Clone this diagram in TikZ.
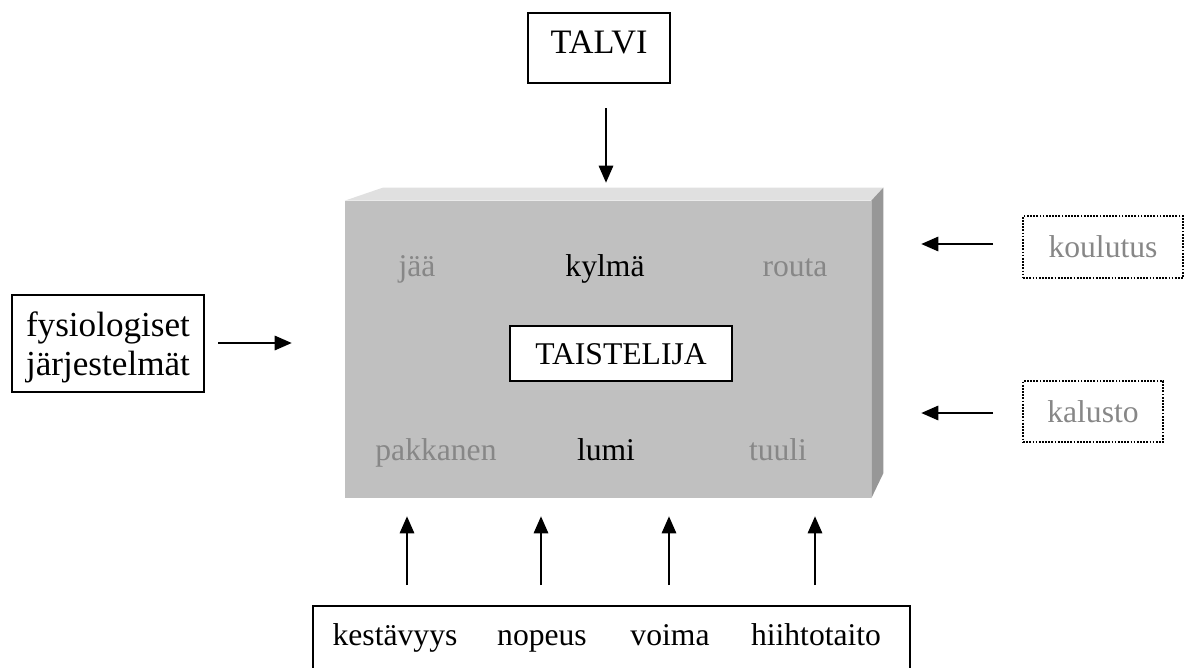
\documentclass[tikz,border=0pt]{standalone}
\usepackage{fontspec}
\setmainfont{Liberation Serif}
\usetikzlibrary{calc,arrows.meta}
\newcommand{\mysize}{\fontsize{18}{21.6}\selectfont}
\newcommand{\bigsize}{\fontsize{20}{22.5}\selectfont}
\definecolor{blockfront}{HTML}{C0C0C0}
\definecolor{blocktop}{HTML}{E0E0E0}
\definecolor{blockside}{HTML}{979797}
\definecolor{softgray}{HTML}{878787}
\def\blockdepth{12}
\def\blockrise{13}
\def\tipgap{0.36cm}

\begin{document}
\begin{tikzpicture}[x=0.02cm,y=-0.02cm,
  lbl/.style={font=\mysize, inner sep=0pt, anchor=base},
  frame/.style={font=\mysize, draw, line width=1pt, inner sep=0pt},
  oneline/.style={frame, text height=12pt, text depth=0pt},
  dotframe/.style={oneline, line width=1.1pt, dash pattern=on 1pt off 0.8pt, text=softgray},
  arr/.style={-{Triangle[length=0.34cm,width=0.29cm]}, line width=0.85pt}]

\useasboundingbox (0,0) rectangle (1191,667);

% BLOCK
\node[fill=blockfront, minimum width=10.52cm, minimum height=5.94cm, inner sep=0pt] (block) at (608,349.5) {};
\fill[blocktop] (block.north west) -- ++(38,-\blockrise) -- ($(block.north east)+(\blockdepth,-\blockrise)$) -- (block.north east) -- cycle;
\fill[blockside] (block.north east) -- ++(\blockdepth,-\blockrise) -- ($(block.south east)+(\blockdepth,-25)$) -- (block.south east) -- cycle;

% WEATHER
\node[lbl, text=softgray] (jaa) at (417,276) {jää};
\node[lbl] (kylma) at (605,276) {kylmä};
\node[lbl, text=softgray] (routa) at (795,276) {routa};
\node[lbl, text=softgray] (pakkanen) at (436,460) {pakkanen};
\node[lbl] (lumi) at (606,460) {lumi};
\node[lbl, text=softgray] (tuuli) at (778,460) {tuuli};
\node[oneline, fill=white, minimum width=4.44cm, minimum height=1.1cm] (taistelija) at (621,353.5) {TAISTELIJA};

% TALVI
\node[oneline, font=\fontsize{19.5}{22}\selectfont, text depth=6pt, minimum width=2.84cm, minimum height=1.4cm] (talvi) at (599,48) {TALVI};
\coordinate (talviarrow) at (606,108);
\draw[arr, shorten >=\tipgap] (talviarrow) -- (talviarrow |- block.north);

% FYSIOLOGIA
\node[frame, font=\bigsize, text depth=0pt, align=center, minimum width=3.84cm, minimum height=1.94cm] (fysio) at (108,343.5) {fysiologiset\\järjestelmät};
\coordinate (fysioarrow) at (218,343);
\draw[arr, shorten >=1.06cm] (fysioarrow) -- (fysioarrow -| block.west);

% KOULUTUS, KALUSTO
\node[dotframe, minimum width=3.2cm, minimum height=1.24cm] (koulutus) at (1103,247) {koulutus};
\node[dotframe, minimum width=2.8cm, minimum height=1.22cm] (kalusto) at (1093,411.5) {kalusto};
\coordinate (koulutusarrow) at (993,244);
\coordinate (kalustoarrow) at (993,413);
\draw[arr, shorten >=1cm] (koulutusarrow) -- (koulutusarrow -| block.east);
\draw[arr, shorten >=1cm] (kalustoarrow) -- (kalustoarrow -| block.east);

% OMINAISUUDET
\node[draw, line width=1pt, anchor=north west, inner sep=0pt, minimum width=11.94cm, minimum height=2cm] (ominaisuudet) at (312,605) {};
\node[lbl] (kestavyys) at (395,645) {kestävyys};
\node[lbl] (nopeus) at (542,645) {nopeus};
\node[lbl] (voima) at (670,645) {voima};
\node[lbl] (hiihtotaito) at (816,645) {hiihtotaito};
\foreach \name/\xpos in {kestavyysarrow/407, nopeusarrow/541, voimaarrow/669, hiihtotaitoarrow/815}{
  \coordinate (\name) at (\xpos,585);
  \draw[arr, shorten >=\tipgap] (\name) -- (\name |- block.south);
}
\end{tikzpicture}
\end{document}
